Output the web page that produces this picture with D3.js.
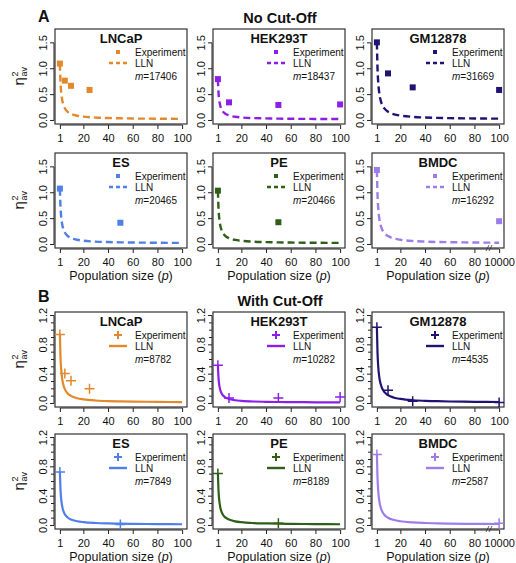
<!DOCTYPE html>
<html><head><meta charset="utf-8">
<script src="https://cdn.jsdelivr.net/npm/d3@7"></script>
<style>body{margin:0;background:#fff} text{font-family:"Liberation Sans",Arial,Helvetica,sans-serif;fill:#111}</style>
</head><body><svg id="c" width="516" height="563"></svg>
<script>
const cells = ["LNCaP","HEK293T","GM12878","ES","PE","BMDC"];
const colors = ["#e3892c","#8c1ee6","#1e1473","#4f7fe9","#2f5e17","#9e7dea"];
const mNoCut = [17406,18437,31669,20465,20466,16292];
const mCut = [8782,10282,4535,7849,8189,2587];
const expP = [[1,5,10,25],[1,10,50,100],[1,10,30,100],[1,50],[1,50],[1,100]];
const expNoCut = [[1.10,0.77,0.67,0.59],[0.80,0.35,0.30,0.31],[1.51,0.91,0.64,0.59],[1.08,0.42],[1.04,0.43],[1.44,0.45]];
const expCut = [[0.94,0.41,0.31,0.20],[0.52,0.075,0.075,0.09],[1.04,0.18,0.03,0.013],[0.73,0.013],[0.71,0.03],[0.97,0.03]];
const llnP = [1,1.5,2,3,4,5,7,10,15,20,30,40,50,60,80,100];
const llnNoCut = [
 [1.10,0.74,0.56,0.38,0.29,0.236,0.174,0.128,0.092,0.074,0.056,0.047,0.042,0.038,0.034,0.031],
 [0.80,0.54,0.41,0.28,0.215,0.176,0.131,0.098,0.072,0.059,0.046,0.040,0.036,0.033,0.030,0.028],
 [1.51,1.013,0.765,0.517,0.393,0.318,0.233,0.169,0.119,0.095,0.070,0.057,0.050,0.045,0.039,0.035],
 [1.08,0.727,0.55,0.373,0.285,0.232,0.171,0.126,0.091,0.073,0.055,0.047,0.041,0.038,0.033,0.031],
 [1.04,0.70,0.53,0.36,0.275,0.224,0.166,0.122,0.088,0.071,0.054,0.046,0.040,0.037,0.033,0.030],
 [1.44,0.967,0.73,0.493,0.375,0.304,0.223,0.162,0.115,0.091,0.067,0.056,0.048,0.044,0.038,0.034]
];
const llnCut = [
 [0.94,0.63,0.475,0.32,0.243,0.196,0.143,0.103,0.072,0.057,0.041,0.033,0.029,0.026,0.022,0.019],
 [0.52,0.35,0.265,0.18,0.138,0.112,0.083,0.061,0.044,0.036,0.027,0.023,0.020,0.019,0.016,0.015],
 [1.04,0.697,0.525,0.353,0.268,0.216,0.157,0.113,0.079,0.062,0.044,0.036,0.031,0.027,0.023,0.020],
 [0.73,0.49,0.37,0.25,0.19,0.154,0.113,0.082,0.058,0.046,0.034,0.028,0.024,0.022,0.019,0.017],
 [0.71,0.477,0.36,0.243,0.185,0.15,0.11,0.08,0.057,0.045,0.033,0.028,0.024,0.022,0.019,0.017],
 [0.97,0.65,0.49,0.33,0.25,0.202,0.147,0.106,0.074,0.058,0.042,0.034,0.029,0.026,0.022,0.020]
];
const xTicks = [1,20,40,60,80,100];
const xTickLabels = ["1","20","40","60","80","100"];
const xTickLabelsBMDC = ["1","20","40","60","80","10000"];
const yTicksA = [0,0.5,1.0,1.5];
const yTicksB = [0,0.4,0.8,1.2];
const yMinorB = [0.1,0.2,0.3,0.5,0.6,0.7,0.9,1.0,1.1];

const svg = d3.select("#c");
const colX = [55,213,372], W = 132, H = 95;
const rowY = [29,153,312,434];

function panel(sec, i){
  const row = sec*2 + Math.floor(i/3), col = i%3;
  const g = svg.append("g").attr("transform",`translate(${colX[col]},${rowY[row]})`);
  const c = colors[i];
  const x = d3.scaleLinear().domain([-2.96,103.96]).range([0,W]);
  const y = sec===0 ? d3.scaleLinear().domain([-0.068,1.768]).range([H,0])
                    : d3.scaleLinear().domain([-0.048,1.248]).range([H,0]);
  // axes
  const labs = i===5 ? xTickLabelsBMDC : xTickLabels;
  const xa = g.append("g").attr("transform",`translate(0,${H+1})`)
    .call(d3.axisBottom(x).tickValues(xTicks).tickSize(4).tickSizeOuter(0).tickFormat((d,j)=>labs[j]));
  xa.select(".domain").attr("d",`M${x(1)},0H${x(100)}`).attr("stroke","#222");
  xa.selectAll(".tick line").attr("stroke","#222");
  xa.selectAll(".tick text").attr("y",9).attr("font-size","11px").attr("font-family","Liberation Sans, Arial").attr("fill","#111");
  const yt = sec===0 ? yTicksA : yTicksB;
  const ya = g.append("g").attr("transform",`translate(-1,0)`)
    .call(d3.axisLeft(y).tickValues(yt).tickSize(4).tickSizeOuter(0).tickFormat(d3.format(".1f")));
  ya.select(".domain").attr("d",`M0,${y(yt[0])}V${y(yt[yt.length-1])}`).attr("stroke","#222");
  ya.selectAll(".tick line").attr("stroke","#222");
  ya.selectAll(".tick text").attr("x",null).attr("dy",null).attr("text-anchor","middle")
    .attr("transform",d=>`translate(-7,${y(d)}) rotate(-90)`).attr("y",0)
    .attr("font-size","11px").attr("font-family","Liberation Sans, Arial").attr("fill","#111");
  ya.selectAll(".tick").attr("transform",null);
  ya.selectAll(".tick line").attr("transform",d=>`translate(0,${y(d)})`);
  if(sec===1){
    g.append("g").selectAll("line").data(yMinorB).join("line")
      .attr("x1",-1).attr("x2",-4).attr("y1",d=>y(d)).attr("y2",d=>y(d)).attr("stroke","#222");
  }
  // box
  g.append("rect").attr("width",W).attr("height",H).attr("fill","none").attr("stroke","#333").attr("stroke-width",1.2);
  // LLN
  const line = d3.line().x((d,j)=>x(llnP[j])).y(d=>y(d)).curve(d3.curveMonotoneX);
  const vals = sec===0 ? llnNoCut[i] : llnCut[i];
  g.append("path").attr("d",line(vals)).attr("fill","none").attr("stroke",c)
    .attr("stroke-width",sec===0?2.4:2.2).attr("stroke-dasharray",sec===0?"7,4":null);
  // experiment
  const ev = sec===0 ? expNoCut[i] : expCut[i];
  ev.forEach((v,j)=>{
    const px = x(expP[i][j]), py = y(v);
    if(sec===0){
      g.append("rect").attr("x",px-3).attr("y",py-3).attr("width",6).attr("height",6).attr("fill",c);
    } else {
      g.append("path").attr("d",`M${px-5},${py}H${px+5}M${px},${py-5}V${py+5}`).attr("stroke",c).attr("stroke-width",1.5);
    }
  });
  if(i===5){
    g.append("path").attr("d",`M${W-18},${H+3}l3,-6M${W-15},${H+3}l3,-6`).attr("stroke","#333").attr("stroke-width",0.8);
  }
  // title & legend
  g.append("text").attr("x",W/2).attr("y",14).attr("text-anchor","middle").attr("font-weight","bold").attr("font-size","13px").text(cells[i]);
  if(sec===0){
    g.append("rect").attr("x",61).attr("y",21).attr("width",4).attr("height",4).attr("fill",c);
    g.append("line").attr("x1",54).attr("x2",72).attr("y1",34).attr("y2",34).attr("stroke",c).attr("stroke-width",2.4).attr("stroke-dasharray","4,3");
  } else {
    g.append("path").attr("d",`M59,23H67M63,19V27`).attr("stroke",c).attr("stroke-width",2);
    g.append("line").attr("x1",54).attr("x2",72).attr("y1",34).attr("y2",34).attr("stroke",c).attr("stroke-width",2.4);
  }
  g.append("text").attr("x",80).attr("y",26.5).attr("font-size","10px").text("Experiment");
  g.append("text").attr("x",80).attr("y",38).attr("font-size","10px").text("LLN");
  const mt = g.append("text").attr("x",80).attr("y",51).attr("font-size","10px");
  mt.append("tspan").attr("font-style","italic").text("m");
  mt.append("tspan").text("=" + (sec===0 ? mNoCut[i] : mCut[i]));
  // y label
  if(col===0){
    const yl = svg.append("g").attr("transform",`translate(24,${rowY[row]+H/2}) rotate(-90)`);
    yl.append("text").attr("x",-9).attr("y",0).attr("font-size","15px").text("η");
    yl.append("text").attr("x",0).attr("y",-6).attr("font-size","9px").text("2");
    yl.append("text").attr("x",0).attr("y",3).attr("font-size","9px").text("av");
  }
  if(row===1 || row===3){
    const xl = g.append("text").attr("x",W/2).attr("y",H+32).attr("text-anchor","middle").attr("font-size","12.5px");
    xl.append("tspan").text("Population size (");
    xl.append("tspan").attr("font-style","italic").text("p");
    xl.append("tspan").text(")");
  }
}
for(let s=0;s<2;s++) for(let i=0;i<6;i++) panel(s,i);
svg.append("text").attr("x",38).attr("y",22).attr("font-weight","bold").attr("font-size","16px").text("A");
svg.append("text").attr("x",38).attr("y",302).attr("font-weight","bold").attr("font-size","16px").text("B");
svg.append("text").attr("x",280).attr("y",23).attr("text-anchor","middle").attr("font-weight","bold").attr("font-size","14.5px").text("No Cut-Off");
svg.append("text").attr("x",280).attr("y",306).attr("text-anchor","middle").attr("font-weight","bold").attr("font-size","14.5px").text("With Cut-Off");
</script></body></html>
